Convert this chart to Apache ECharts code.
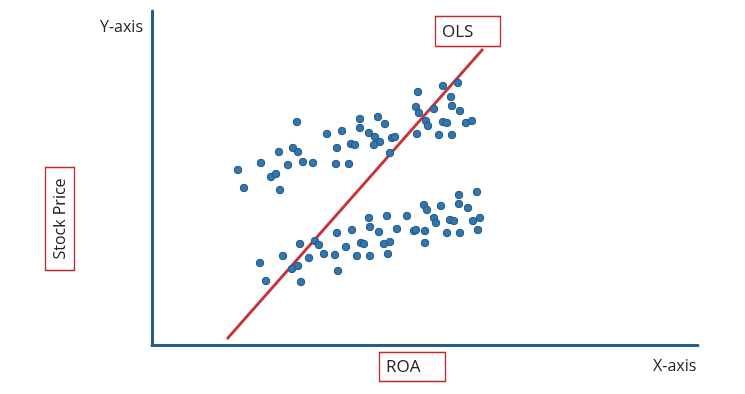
<!DOCTYPE html>
<html><head><meta charset="utf-8">
<script src="https://cdn.jsdelivr.net/npm/echarts@6/dist/echarts.min.js"></script>
<style>html,body{margin:0;padding:0;background:#fff}#c{width:745px;height:394px}</style>
</head><body><div id="c"></div>
<script>
// Arbitrary units (ROA on x, Stock Price on y)
var upperCluster = [
 [86,175],[92,157],[109,182],[119,168],[124,171],[128,155],[127,193],[136,180],[141,197],[146,193],
 [145,223],[151,183],[161,182],[175,211],[185,197],[184,181],[190,214],[197,181],[199,201],[203,200],
 [208,226],[208,217],[217,212],[223,208],[226,228],[222,200],[228,203],[233,221],[240,207],[243,208],
 [238,192],[266,253],[264,238],[267,232],[265,211],[274,224],[276,219],[282,236],[291,259],[306,262],
 [299,248],[300,239],[291,223],[295,222],[287,210],[300,210],[308,234],[314,222],[320,224]
];
var lowerCluster = [
 [307,150],[325,153],[272,140],[275,135],[289,139],[307,141],[316,137],[255,129],[235,129],[217,127],
 [282,127],[284,122],[298,125],[302,124],[328,127],[321,124],[218,118],[200,115],[185,112],[227,113],
 [245,116],[262,114],[264,115],[273,114],[295,112],[308,112],[326,115],[273,102],[238,103],[232,101],
 [209,102],[212,101],[194,98],[148,101],[163,104],[167,100],[172,91],[183,90],[205,89],[218,89],
 [236,91],[157,87],[131,89],[108,82],[146,79],[140,76],[186,74],[114,64],[149,63]
];
var olsLine = [[75,6],[331,296]];
var xLabel = 'ROA', yLabel = 'Stock Price', olsLabel = 'OLS';
var xAxisName = 'X-axis', yAxisName = 'Y-axis';

var font = '"Open Sans", "Noto Sans", sans-serif';
var chart = echarts.init(document.getElementById('c'), null, {renderer:'canvas'});
var axisColor = '#245f8c';
chart.setOption({
  animation:false,
  grid:{left:152, right:47, top:11, bottom:49},
  xAxis:{type:'value', min:0, max:546, axisLine:{show:true, onZero:false, lineStyle:{color:axisColor, width:3}},
    axisTick:{show:false}, axisLabel:{show:false}, splitLine:{show:false}},
  yAxis:{type:'value', min:0, max:334, axisLine:{show:true, onZero:false, lineStyle:{color:axisColor, width:3}},
    axisTick:{show:false}, axisLabel:{show:false}, splitLine:{show:false}},
  series:[
    {type:'line', data:olsLine, symbol:'none', lineStyle:{color:'#c8323a', width:2.8}, z:1},
    {type:'scatter', data:upperCluster.concat(lowerCluster), symbolSize:7.5,
      itemStyle:{color:'#3176b0', borderColor:'#23577f', borderWidth:1, opacity:1}, z:2}
  ],
  graphic:[
    {type:'text', x:100, y:27, style:{text:yAxisName, font:'16px '+font, fill:'#222', verticalAlign:'middle'}},
    {type:'text', x:653, y:366, style:{text:xAxisName, font:'16px '+font, fill:'#222', verticalAlign:'middle'}},
    {type:'rect', shape:{x:435.5, y:16.5, width:65, height:30}, style:{fill:'#fff', stroke:'#c0282d', lineWidth:1.3}},
    {type:'text', x:442, y:32, style:{text:olsLabel, font:'17px '+font, fill:'#222', verticalAlign:'middle'}},
    {type:'rect', shape:{x:379.5, y:352.5, width:66, height:29}, style:{fill:'#fff', stroke:'#c0282d', lineWidth:1.3}},
    {type:'text', x:386, y:367, style:{text:xLabel, font:'17px '+font, fill:'#222', verticalAlign:'middle'}},
    {type:'rect', shape:{x:45.5, y:167.5, width:29, height:103}, style:{fill:'#fff', stroke:'#c0282d', lineWidth:1.3}},
    {type:'text', x:60, y:219, rotation:Math.PI/2, style:{text:yLabel, font:'16px '+font, fill:'#222', align:'center', verticalAlign:'middle'}}
  ]
});
</script></body></html>
